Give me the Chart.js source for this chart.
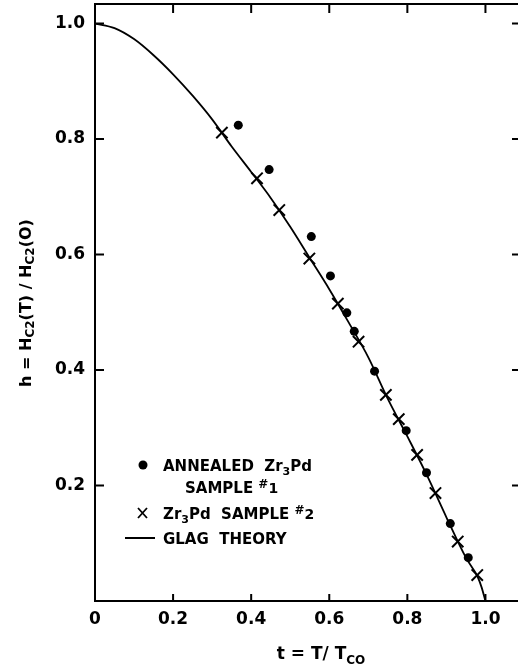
<!DOCTYPE html>
<html>
<head>
<meta charset="utf-8">
<script src="https://cdn.jsdelivr.net/npm/chart.js@4/dist/chart.umd.min.js"></script>
<style>
  html, body { margin: 0; padding: 0; background: #fff; overflow: hidden; }
  #wrap { width: 520px; height: 668px; }
</style>
</head>
<body>
<div id="wrap"><canvas id="hc2Chart" width="520" height="668"></canvas></div>
<script>
// reduced temperature t and reduced field h
const dotT = [0.367, 0.446, 0.554, 0.603, 0.645, 0.664, 0.716, 0.797, 0.849, 0.910, 0.956];
const dotH = [0.824, 0.747, 0.631, 0.563, 0.499, 0.467, 0.398, 0.295, 0.222, 0.134, 0.075];

const crossT = [0.325, 0.415, 0.472, 0.549, 0.622, 0.675, 0.745, 0.778, 0.825, 0.872, 0.929, 0.979];
const crossH = [0.811, 0.732, 0.677, 0.593, 0.515, 0.449, 0.357, 0.315, 0.253, 0.187, 0.103, 0.045];

const glagT = [0, 0.05, 0.1, 0.15, 0.2, 0.25, 0.3, 0.35, 0.4, 0.45, 0.5, 0.55, 0.6, 0.65, 0.7, 0.75, 0.8, 0.85, 0.9, 0.95, 0.98, 0.99, 1.0];
const glagH = [1.0, 0.992, 0.973, 0.945, 0.912, 0.875, 0.834, 0.787, 0.743, 0.698, 0.648, 0.594, 0.540, 0.482, 0.422, 0.350, 0.285, 0.218, 0.145, 0.075, 0.042, 0.024, 0.0];

const xTickVals = [0, 0.2, 0.4, 0.6, 0.8, 1.0];
const xTickLabels = ['0', '0.2', '0.4', '0.6', '0.8', '1.0'];
const yTickVals = [0.2, 0.4, 0.6, 0.8, 1.0];
const yTickLabels = ['0.2', '0.4', '0.6', '0.8', '1.0'];

const FONT = 'DejaVu Sans';
const pts = (xs, ys) => xs.map((x, i) => ({ x: x, y: ys[i] }));

// draw a run of text pieces with their own size / vertical shift
function drawParts(ctx, parts, x, y, measureOnly) {
    let cx = x;
    parts.forEach(p => {
        ctx.font = (p.w || 'normal') + ' ' + p.s + 'px "' + FONT + '"';
        if (!measureOnly) ctx.fillText(p.t, cx, y + (p.dy || 0));
        cx += ctx.measureText(p.t).width;
    });
    return cx - x;
}

const whiteBg = {
    id: 'whiteBg',
    beforeDraw(chart) {
        const c = chart.ctx;
        c.save();
        c.fillStyle = '#fff';
        c.fillRect(0, 0, chart.width, chart.height);
        c.restore();
    }
};

const frame = {
    id: 'frame',
    afterDraw(chart) {
        const c = chart.ctx;
        const a = chart.chartArea;
        const xs = chart.scales.x, ys = chart.scales.y;
        c.save();
        c.strokeStyle = '#000';
        c.lineWidth = 2;
        c.beginPath();
        c.moveTo(a.right, a.top); c.lineTo(a.left, a.top);
        c.lineTo(a.left, a.bottom); c.lineTo(a.right, a.bottom);
        c.stroke();

        // inward ticks on all four sides
        c.beginPath();
        xTickVals.forEach(v => {
            if (v === 0) return;
            const px = xs.getPixelForValue(v);
            c.moveTo(px, a.bottom); c.lineTo(px, a.bottom - 7);
            c.moveTo(px, a.top); c.lineTo(px, a.top + 9);
        });
        yTickVals.forEach(v => {
            const py = ys.getPixelForValue(v);
            c.moveTo(a.left, py); c.lineTo(a.left + 9, py);
            c.moveTo(a.right, py); c.lineTo(a.right - 8, py);
        });
        c.stroke();

        // axis titles
        c.fillStyle = '#000';
        c.textBaseline = 'alphabetic';
        const xt = [
            { t: 't = T/ T', s: 17, w: 'bold' },
            { t: 'CO', s: 12, w: 'bold', dy: 5 }
        ];
        const xw = drawParts(c, xt, 0, 0, true);
        drawParts(c, xt, 321 - xw / 2, 659);

        const yt = [
            { t: 'h = H', s: 16, w: 'bold' },
            { t: 'C2', s: 12, w: 'bold', dy: 3 },
            { t: '(T) / H', s: 16, w: 'bold' },
            { t: 'C2', s: 12, w: 'bold', dy: 3 },
            { t: '(O)', s: 16, w: 'bold' }
        ];
        c.save();
        c.translate(31, 303);
        c.rotate(-Math.PI / 2);
        const yw = drawParts(c, yt, 0, 0, true);
        drawParts(c, yt, -yw / 2, 0);
        c.restore();

        // legend
        c.beginPath();
        c.arc(143, 465, 4.5, 0, Math.PI * 2);
        c.fill();
        drawParts(c, [
            { t: 'ANNEALED  Zr', s: 15, w: 'bold' },
            { t: '3', s: 11, w: 'bold', dy: 4 },
            { t: 'Pd', s: 15, w: 'bold' }
        ], 163, 471);
        drawParts(c, [
            { t: 'SAMPLE ', s: 15, w: 'bold' },
            { t: '#', s: 12, w: 'bold', dy: -5 },
            { t: '1', s: 14, w: 'bold' }
        ], 185, 493);

        c.lineWidth = 1.8;
        c.beginPath();
        c.moveTo(138, 508); c.lineTo(147, 518);
        c.moveTo(147, 508); c.lineTo(138, 518);
        c.stroke();
        drawParts(c, [
            { t: 'Zr', s: 15, w: 'bold' },
            { t: '3', s: 11, w: 'bold', dy: 4 },
            { t: 'Pd  SAMPLE ', s: 15, w: 'bold' },
            { t: '#', s: 12, w: 'bold', dy: -5 },
            { t: '2', s: 14, w: 'bold' }
        ], 163, 519);

        c.lineWidth = 2;
        c.beginPath();
        c.moveTo(125, 538); c.lineTo(155, 538);
        c.stroke();
        drawParts(c, [{ t: 'GLAG  THEORY', s: 15, w: 'bold' }], 163, 544);
        c.restore();
    }
};

const ctx = document.getElementById('hc2Chart').getContext('2d');
new Chart(ctx, {
    type: 'scatter',
    data: {
        datasets: [{
            label: 'GLAG THEORY',
            type: 'line',
            data: pts(glagT, glagH),
            borderColor: '#000',
            borderWidth: 1.8,
            pointRadius: 0,
            cubicInterpolationMode: 'monotone',
            fill: false
        }, {
            label: 'ANNEALED Zr3Pd SAMPLE #1',
            data: pts(dotT, dotH),
            pointStyle: 'circle',
            pointRadius: 4.5,
            backgroundColor: '#000',
            borderColor: '#000',
            borderWidth: 0
        }, {
            label: 'Zr3Pd SAMPLE #2',
            data: pts(crossT, crossH),
            pointStyle: 'crossRot',
            pointRadius: 8,
            borderColor: '#000',
            borderWidth: 2
        }]
    },
    options: {
        responsive: false,
        animation: false,
        layout: { autoPadding: false, padding: { top: 4, right: 0, left: 0, bottom: 0 } },
        plugins: { legend: { display: false }, tooltip: { enabled: false } },
        scales: {
            x: {
                type: 'linear',
                min: 0,
                max: 1.0885,
                afterBuildTicks: s => { s.ticks = xTickVals.map(v => ({ value: v })); },
                afterFit: s => { s.height = 67; s.paddingLeft = 0; s.paddingRight = 0; },
                grid: { display: false, drawTicks: false },
                border: { display: false },
                ticks: {
                    padding: 8,
                    color: '#000',
                    font: { family: FONT, size: 17, weight: 'bold' },
                    callback: (v, i) => xTickLabels[i]
                }
            },
            y: {
                type: 'linear',
                min: 0,
                max: 1.0338,
                afterBuildTicks: s => { s.ticks = yTickVals.map(v => ({ value: v })); },
                afterFit: s => { s.width = 95; s.paddingTop = 0; s.paddingBottom = 0; },
                grid: { display: false, drawTicks: false },
                border: { display: false },
                ticks: {
                    padding: 10,
                    color: '#000',
                    font: { family: FONT, size: 17, weight: 'bold' },
                    callback: (v, i) => yTickLabels[i]
                }
            }
        }
    },
    plugins: [whiteBg, frame]
});
</script>
</body>
</html>
